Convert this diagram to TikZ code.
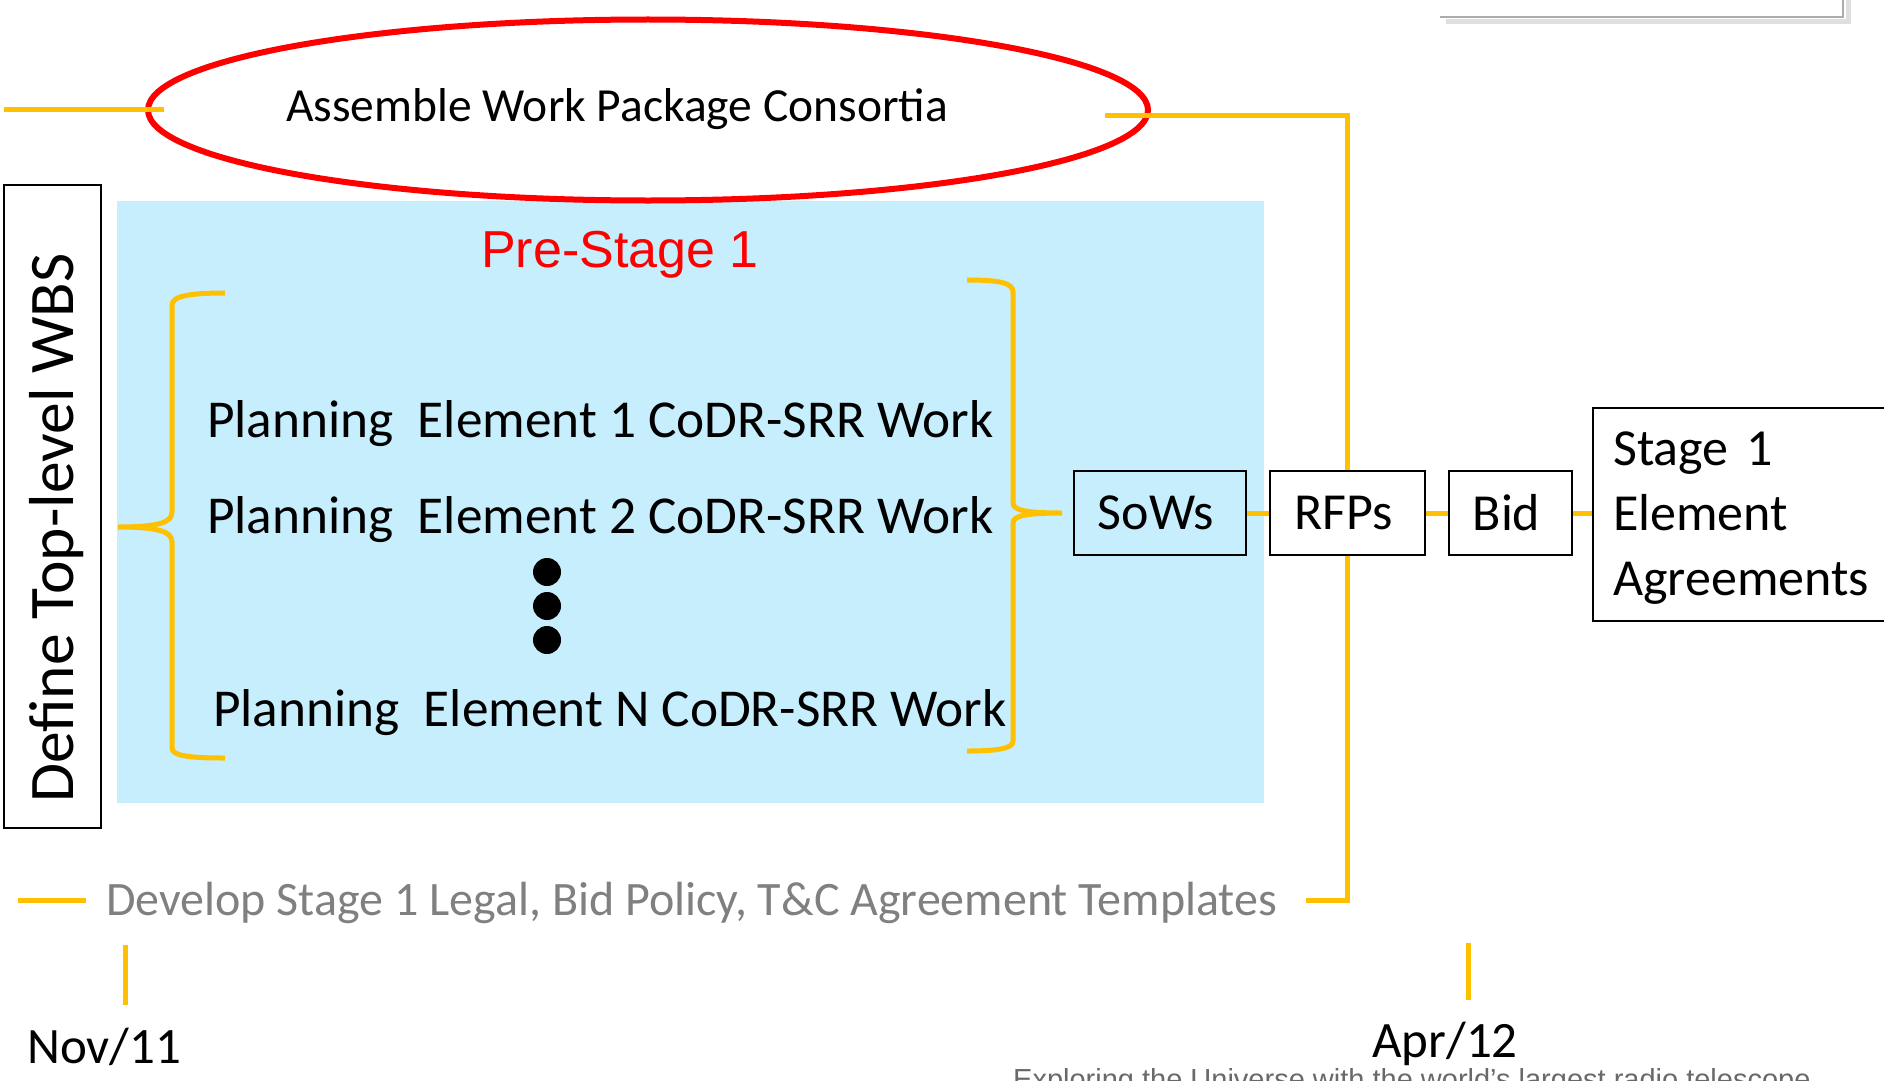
\documentclass[tikz,border=0pt]{standalone}
\usepackage{fontspec}
\setmainfont{Carlito}
\newfontfamily\arialfont{Liberation Sans}
\usetikzlibrary{shapes.geometric}
\definecolor{wpyellow}{RGB}{255,192,0}
\definecolor{wpblue}{RGB}{199,238,252}
\definecolor{wpred}{RGB}{255,0,0}
\definecolor{wpgray}{RGB}{128,128,128}
\definecolor{footgray}{RGB}{105,105,105}
\newcommand{\bigtext}{\fontsize{53.3}{64}\selectfont}

\begin{document}
\begin{tikzpicture}[x=1pt,y=-1pt,
  ylw/.style={draw=wpyellow, line width=5pt},
  box/.style={draw, line width=1.5pt, inner sep=0pt, minimum height=84,
    font=\fontsize{52}{62}\selectfont},
  txt/.style={inner sep=0pt, font=\bigtext}]
\useasboundingbox (0,0) rectangle (1884,1081);
%
% pre-stage panel
\fill [wpblue] (117,201) rectangle (1264,803);
%
% corner of the box above
\draw [gray!25, line width=5pt] (1446,22) -- (1848,22) -- (1848,-5);
\draw [gray!65, line width=1.5pt] (1440,17) -- (1843,17) -- (1843,-5);
%
\node (assemble) [ellipse, draw=wpred, line width=6pt, inner sep=0pt,
  minimum width=1000, minimum height=181] at (648,110) {};
\node (assembletxt) [txt, font=\fontsize{47.5}{57}\selectfont, anchor=base]
  at (617,121) {Assemble Work Package Consortia};
\coordinate (leftA) at (4,109);
\coordinate (leftB) at (164,109);
\draw [ylw] (leftA) -- (leftB);
%
\node (wbs) [draw, line width=1.5pt, inner sep=0pt, minimum width=97,
  minimum height=643, anchor=north west] at (3,184) {};
\node (wbstxt) [txt, font=\fontsize{63.5}{70}\selectfont, rotate=90,
  anchor=base west] at (73,803) {Define Top-level WBS};
%
\node (prestage) [inner sep=0pt, anchor=base, text=wpred,
  font=\arialfont\fontsize{52}{60}\selectfont] at (620,267) {Pre-Stage 1};
%
% braces
\draw [ylw] (225,293) .. controls (190,293) and (172,296) .. (172,305)
  -- (172,512) .. controls (172,522) and (160,527) .. (118,527)
  .. controls (160,527) and (172,532) .. (172,542)
  -- (172,748) .. controls (172,756) and (190,758) .. (225,758);
\draw [ylw] (967,280) .. controls (1000,280) and (1013,283) .. (1013,292)
  -- (1013,503) .. controls (1013,510) and (1025,513) .. (1062,513)
  .. controls (1025,513) and (1013,516) .. (1013,523)
  -- (1013,741) .. controls (1013,748) and (1000,751) .. (967,751);
%
\node (plan1) [txt, anchor=base west] at (207,437) {Planning~~Element 1 CoDR-SRR Work};
\node (plan2) [txt, anchor=base west] at (207,533) {Planning~~Element 2 CoDR-SRR Work};
\node (planN) [txt, anchor=base west] at (213,726) {Planning~~Element N CoDR-SRR Work};
\foreach \y [count=\i] in {572,606,640}
  \node (dot\i) [circle, fill, inner sep=0pt, minimum size=28] at (547,\y) {};
%
\node (sows) [box, minimum width=172] at (1160,513) {\hspace*{-8pt}SoWs};
\node (rfps) [box, minimum width=155] at (1347.5,513) {\hspace*{-8pt}RFPs};
\node (bid) [box, minimum width=123] at (1510.5,513) {\hspace*{-8pt}Bid};
\node (stage) [box, minimum width=310, minimum height=213, anchor=north west]
  at (1592,407) {};
\node (stagetxt) [txt, font=\fontsize{52}{65}\selectfont, text width=280,
  align=left, anchor=base west] at (1613,465) {Stage 1\\Element\\Agreements};
%
\draw [ylw] (sows.east) -- (rfps.west);
\draw [ylw] (rfps.east) -- (bid.west);
\draw [ylw] (bid.east) -- (bid.east -| stage.west);
%
\coordinate (topA) at (1105,115);
\coordinate (botA) at (1306,900);
\draw [ylw] (topA) -| (rfps.north);
\draw [ylw] (rfps.south) |- (botA);
%
\coordinate (devA) at (18,900);
\coordinate (devB) at (86,900);
\draw [ylw] (devA) -- (devB);
\node (develop) [txt, text=wpgray, font=\fontsize{48}{57}\selectfont,
  anchor=base west] at (106,915)
  {Develop Stage 1 Legal, Bid Policy, T\&C Agreement Templates};
%
\coordinate (novA) at (125,945);
\coordinate (novB) at (125,1005);
\draw [ylw] (novA) -- (novB);
\node (nov) [txt, font=\fontsize{51}{60}\selectfont, anchor=base west]
  at (27,1063) {Nov/11};
\coordinate (aprA) at (1468,943);
\coordinate (aprB) at (1468,1000);
\draw [ylw] (aprA) -- (aprB);
\node (apr) [txt, font=\fontsize{51}{60}\selectfont, anchor=base west]
  at (1372,1057) {Apr/12};
%
\node (footer) [inner sep=0pt, anchor=base west, text=footgray,
  font=\arialfont\fontsize{29}{35}\selectfont] at (1013,1089)
  {Exploring the Universe with the world’s largest radio telescope};
\end{tikzpicture}
\end{document}
